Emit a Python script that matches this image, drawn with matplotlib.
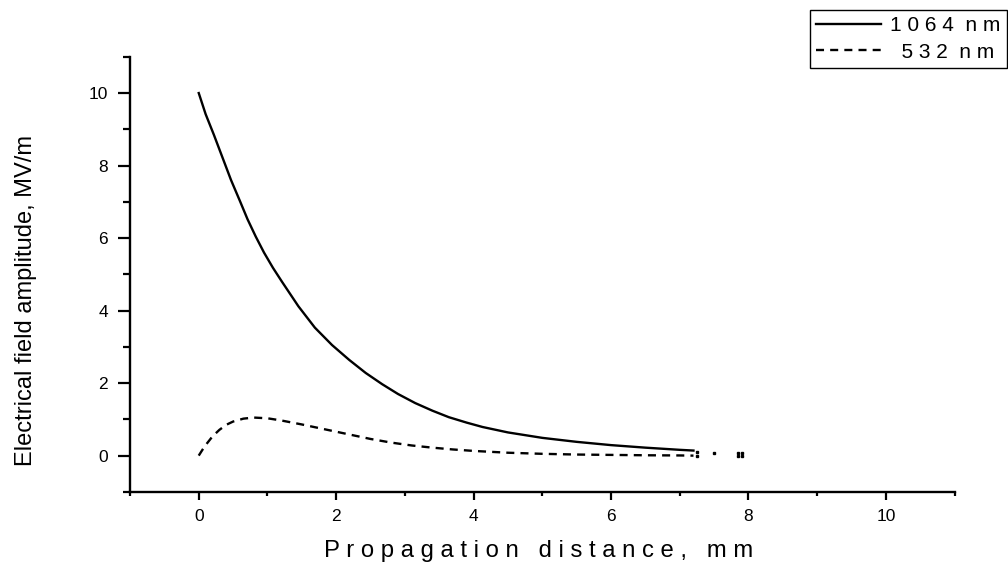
import matplotlib.pyplot as plt
from matplotlib.ticker import MultipleLocator

plt.rcParams['font.family'] = ['Liberation Sans', 'DejaVu Sans']

# 1064 nm fundamental (solid)
x_1064 = [0, 0.1, 0.22, 0.35, 0.47, 0.6, 0.71, 0.83, 0.95, 1.08, 1.21, 1.45, 1.69, 1.94,
          2.19, 2.43, 2.67, 2.9, 3.15, 3.4, 3.64, 3.9, 4.13, 4.5, 5.0, 5.5, 6.0, 6.5,
          7.0, 7.2]
e_1064 = [10, 9.42, 8.85, 8.2, 7.6, 7.02, 6.52, 6.04, 5.6, 5.18, 4.8, 4.12, 3.53, 3.05,
          2.64, 2.28, 1.97, 1.7, 1.45, 1.24, 1.06, 0.91, 0.79, 0.64, 0.49, 0.38, 0.29, 0.22,
          0.16, 0.14]

# 532 nm second harmonic (dashed)
x_532 = [0, 0.05, 0.1, 0.2, 0.3, 0.4, 0.5, 0.65, 0.8, 1.0, 1.2, 1.5, 1.8, 2.2, 2.5,
         2.8, 3.1, 3.4, 3.7, 4.0, 4.5, 5.0, 5.5, 6.0, 6.5, 7.0, 7.2]
e_532 = [0, 0.15, 0.29, 0.53, 0.71, 0.85, 0.94, 1.02, 1.05, 1.03, 0.97, 0.86, 0.74, 0.58, 0.46,
         0.36, 0.28, 0.22, 0.17, 0.13, 0.08, 0.05, 0.03, 0.02, 0.01, 0.005, 0.0]

# stray points past the end of the curves
x_dots = [7.25, 7.25, 7.5, 7.85, 7.9, 7.85, 7.9]
e_dots = [0.1, 0.0, 0.07, 0.08, 0.08, 0.0, 0.0]

fig = plt.figure(figsize=(10.08, 5.68), dpi=100)
ax = fig.add_axes([0.129, 0.134, 0.818, 0.766])

l1, = ax.plot(x_1064, e_1064, color='black', linewidth=1.7)
l2, = ax.plot(x_532, e_532, color='black', linewidth=1.7, linestyle=(0, (3.4, 2.6)))
ax.plot(x_dots, e_dots, linestyle='none', marker='s', markersize=1.5, color='black')

ax.set_xlim(-1, 11)
ax.set_ylim(-1, 11)
ax.set_xticks([0, 2, 4, 6, 8, 10])
ax.set_yticks([0, 2, 4, 6, 8, 10])
ax.xaxis.set_minor_locator(MultipleLocator(1))
ax.yaxis.set_minor_locator(MultipleLocator(1))

for s in ['top', 'right']:
    ax.spines[s].set_visible(False)
for s in ['left', 'bottom']:
    ax.spines[s].set_linewidth(1.7)
ax.tick_params(which='both', direction='out', width=1.6, labelsize=12.5)
ax.tick_params(axis='y', which='major', length=9, pad=7)
ax.tick_params(axis='y', which='minor', length=5)
ax.tick_params(axis='x', which='major', length=6, pad=6)
ax.tick_params(axis='x', which='minor', length=3)

ax.set_xlabel("P r o p a g a t i o n   d i s t a n c e ,   m m", fontsize=17.2)
ax.xaxis.set_label_coords(0.495, -0.11)
ax.set_ylabel("Electrical field amplitude, MV/m", fontsize=17)
ax.yaxis.set_label_coords(-0.113, 0.44)

fig.legend([l1, l2], ["1 0 6 4  n m", "  5 3 2  n m"], loc='upper left',
           bbox_to_anchor=(810 / 1008, 1 - 10 / 568), fontsize=15, frameon=True,
           fancybox=False, edgecolor='black', framealpha=1, handlelength=3.1,
           handletextpad=0.45, borderpad=0.3, labelspacing=0.35, borderaxespad=0)

fig.savefig("out.png", dpi=100)
